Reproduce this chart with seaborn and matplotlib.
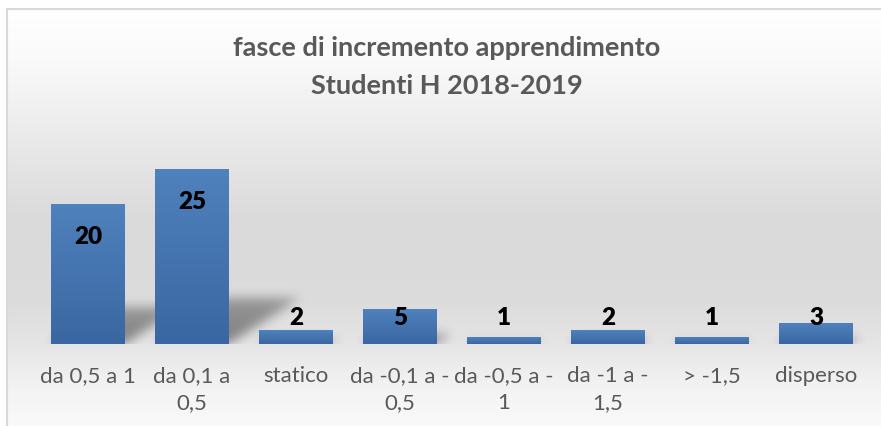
import numpy as np
import pandas as pd
import matplotlib
matplotlib.use("Agg")
import matplotlib.pyplot as plt
from matplotlib.colors import LinearSegmentedColormap
import seaborn as sns

categories = ["da 0,5 a 1", "da 0,1 a 0,5", "statico", "da -0,1 a -0,5",
              "da -0,5 a -1", "da -1 a -1,5", "> -1,5", "disperso"]
tick_labels = ["da 0,5 a 1", "da 0,1 a\n0,5", "statico", "da -0,1 a -\n0,5",
               "da -0,5 a -\n1", "da -1 a -\n1,5", "> -1,5", "disperso"]
studenti = [20, 25, 2, 5, 1, 2, 1, 3]
title_lines = ["fasce di incremento apprendimento", "Studenti H 2018-2019"]

W, H = 881, 427
sns.set_theme(style="white")
plt.rcParams["font.family"] = ["Lato", "DejaVu Sans"]

fig = plt.figure(figsize=(W / 100, H / 100), dpi=100)

# chart area background: vertical grey gradient + thin border
bg = fig.add_axes([0, 0, 1, 1], zorder=-5)
stops_y = [10, 60, 130, 220, 300, 345, 385, 427]
stops_v = [1.0, 0.98, 0.925, 0.855, 0.86, 0.9, 0.95, 0.98]
g = np.interp(np.arange(10, H), stops_y, stops_v)
bg_img = np.dstack([np.repeat(g[:, None], 2, axis=1)] * 3)
bg.imshow(bg_img, extent=[7, W, H, 10], aspect="auto", interpolation="bilinear")
bg.plot([7, 7], [10, H], color="#d9d9d9", lw=1.5)
bg.plot([7, W], [10, 10], color="#d9d9d9", lw=1.5)
bg.set_xlim(0, W)
bg.set_ylim(H, 0)
bg.axis("off")

ax = fig.add_axes([36 / W, 82 / H, 832 / W, 210 / H])
df = pd.DataFrame({"fascia": categories, "studenti": studenti})
sns.barplot(data=df, x="fascia", y="studenti", color="#4f81bd", width=0.71,
            ax=ax, zorder=3, linewidth=0, edgecolor="none")

# gradient fill inside each bar
cmap = LinearSegmentedColormap.from_list("bar", ["#3a67a2", "#4f81bd"])
grad = np.linspace(1, 0, 64)[:, None]
for p in ax.patches:
    x0, w, h = p.get_x(), p.get_width(), p.get_height()
    im = ax.imshow(grad, cmap=cmap, vmin=0, vmax=1, extent=[x0, x0 + w, 0, h],
                   aspect="auto", zorder=4, interpolation="bilinear")
    im.set_clip_path(p)

# soft perspective shadows
nx, ny = 832, 210
X, Y = np.meshgrid(np.linspace(-0.5, 7.5, nx), np.linspace(30, 0, ny))
mask = np.zeros_like(X)
for p in ax.patches:
    x0, w, h = p.get_x(), p.get_width(), p.get_height()
    hs, d = 0.26 * h, 0.027 * h
    frac = Y / hs
    sel = (Y <= hs) & (X >= x0 + frac * d) & (X <= x0 + w + frac * d)
    mask[sel] = np.maximum(mask[sel], (1 - 0.3 * frac)[sel])
k = np.exp(-0.5 * (np.arange(-16, 17) / 5.5) ** 2)
k /= k.sum()
mask = np.apply_along_axis(lambda r: np.convolve(r, k, mode="same"), 1, mask)
mask = np.apply_along_axis(lambda c: np.convolve(c, k, mode="same"), 0, mask)
shadow = np.zeros((ny, nx, 4))
shadow[..., 3] = np.clip(mask * 0.45, 0, 1)
ax.imshow(shadow, extent=[-0.5, 7.5, 0, 30], aspect="auto", zorder=2)

for i, v in enumerate(studenti):
    ax.text(i, max(v - 4.6, 3.9), str(v), ha="center", va="center",
            fontsize=17.5, fontweight="heavy", color="black", zorder=6)

ax.set_xlim(-0.5, 7.5)
ax.set_ylim(0, 30)
ax.set_xticks(range(len(categories)))
ax.set_xticklabels(tick_labels, fontsize=16, color="#595959", linespacing=1.45)
ax.tick_params(axis="x", length=0, pad=15)
ax.set_yticks([])
ax.set_xlabel("")
ax.set_ylabel("")
ax.patch.set_alpha(0)
for s in ax.spines.values():
    s.set_visible(False)

fig.text(447 / W, 1 - 48 / H, title_lines[0], ha="center", va="center",
         fontsize=19.5, fontweight="bold", color="#595959")
fig.text(447 / W, 1 - 86 / H, title_lines[1], ha="center", va="center",
         fontsize=19.5, fontweight="bold", color="#595959")

fig.savefig("out.png", dpi=100)
